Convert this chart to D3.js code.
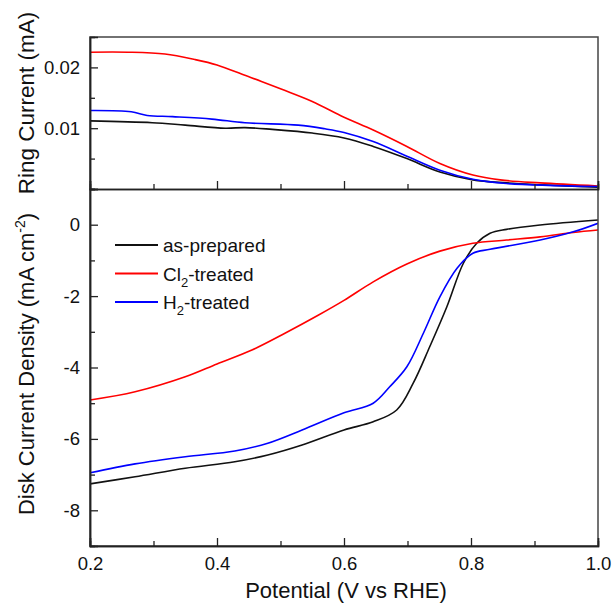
<!DOCTYPE html>
<html>
<head>
<meta charset="utf-8">
<script src="https://cdn.jsdelivr.net/npm/d3@7"></script>
<style>
  body { margin: 0; background: #fff; }
  text { font-family: "Liberation Sans", Arial, sans-serif; fill: #111; }
</style>
</head>
<body>
<div id="chart"></div>
<script>
// potential (V vs RHE) sample points, per series
var ringPotential = {
  asPrepared: [0.2, 0.298, 0.35, 0.413, 0.444, 0.487, 0.55, 0.6, 0.646, 0.699, 0.751, 0.803, 0.856, 0.909, 1.0],
  cl2: [0.2, 0.26, 0.318, 0.365, 0.4, 0.444, 0.47, 0.502, 0.55, 0.6, 0.646, 0.699, 0.751, 0.803, 0.846, 0.909, 1.0],
  h2: [0.2, 0.265, 0.29, 0.33, 0.392, 0.444, 0.528, 0.57, 0.6, 0.646, 0.699, 0.751, 0.803, 0.856, 1.0]
}
var ringCurrent = {
  asPrepared: [0.0112, 0.0109, 0.0105, 0.0100, 0.0101, 0.0098, 0.0092, 0.0084, 0.0070, 0.0050, 0.0028, 0.0015, 0.0010, 0.0007, 0.0003],
  cl2: [0.0225, 0.0225, 0.0222, 0.0213, 0.0204, 0.0187, 0.0177, 0.0164, 0.0144, 0.0118, 0.0097, 0.0070, 0.0042, 0.0023, 0.0015, 0.0010, 0.0005],
  h2: [0.0129, 0.0127, 0.0121, 0.0119, 0.0115, 0.0109, 0.0105, 0.0099, 0.0093, 0.0078, 0.0054, 0.0031, 0.0016, 0.0009, 0.0004]
}
var diskPotential = {
  asPrepared: [0.2, 0.271, 0.35, 0.428, 0.48, 0.534, 0.6, 0.646, 0.683, 0.709, 0.735, 0.762, 0.788, 0.809, 0.83, 0.856, 0.909, 1.0],
  cl2: [0.2, 0.271, 0.35, 0.4, 0.455, 0.507, 0.56, 0.6, 0.646, 0.699, 0.751, 0.803, 0.856, 0.909, 0.961, 1.0],
  h2: [0.2, 0.271, 0.35, 0.428, 0.48, 0.534, 0.6, 0.646, 0.672, 0.699, 0.725, 0.751, 0.778, 0.803, 0.83, 0.909, 0.961, 1.0]
}
var diskCurrent = {
  asPrepared: [-7.26, -7.06, -6.82, -6.64, -6.45, -6.17, -5.75, -5.52, -5.19, -4.44, -3.42, -2.30, -1.08, -0.52, -0.24, -0.13, -0.01, 0.13],
  cl2: [-4.91, -4.68, -4.26, -3.90, -3.51, -3.04, -2.53, -2.12, -1.60, -1.10, -0.74, -0.52, -0.43, -0.34, -0.22, -0.15],
  h2: [-6.95, -6.70, -6.50, -6.34, -6.12, -5.75, -5.27, -5.0, -4.54, -3.98, -3.04, -2.02, -1.22, -0.80, -0.69, -0.43, -0.20, 0.04]
}
var seriesKeys = ['asPrepared', 'cl2', 'h2']
var seriesColors = {asPrepared: '#111111', cl2: '#ff0000', h2: '#0000ff'}
var xTicks = [0.2, 0.4, 0.6, 0.8, 1.0]
var ringTicks = [0.01, 0.02]
var diskTicks = [-8, -6, -4, -2, 0]

var width = 613, height = 608
var left = 90, right = 598
var ringTop = 37, mid = 189, bottom = 546

var svg = d3.select('#chart').append('svg')
  .attr('width', width)
  .attr('height', height)

var x = d3.scaleLinear().domain([0.2, 1.0]).range([left, right])
var yRing = d3.scaleLinear().domain([0, 0.025]).range([mid, ringTop])
var yDisk = d3.scaleLinear().domain([-9, 1]).range([bottom, mid])

function pts(px, py){
  return px.map(function(v, i){ return [v, py[i]] })
}

// clip paths
svg.append('clipPath').attr('id', 'clipRing').append('rect')
  .attr('x', left).attr('y', ringTop).attr('width', right - left).attr('height', mid - ringTop)
svg.append('clipPath').attr('id', 'clipDisk').append('rect')
  .attr('x', left).attr('y', mid).attr('width', right - left).attr('height', bottom - mid)

var ringLine = d3.line().curve(d3.curveCatmullRom.alpha(0.5))
  .x(function(d){ return x(d[0]) }).y(function(d){ return yRing(d[1]) })
var diskLine = d3.line().curve(d3.curveCatmullRom.alpha(0.5))
  .x(function(d){ return x(d[0]) }).y(function(d){ return yDisk(d[1]) })

seriesKeys.forEach(function(k){
  svg.append('path')
    .datum(pts(ringPotential[k], ringCurrent[k]))
    .attr('clip-path', 'url(#clipRing)')
    .attr('fill', 'none').attr('stroke', seriesColors[k]).attr('stroke-width', 1.6)
    .attr('d', ringLine)
  svg.append('path')
    .datum(pts(diskPotential[k], diskCurrent[k]))
    .attr('clip-path', 'url(#clipDisk)')
    .attr('fill', 'none').attr('stroke', seriesColors[k]).attr('stroke-width', 1.6)
    .attr('d', diskLine)
})

// frame lines
svg.append('rect')
  .attr('x', left).attr('y', ringTop).attr('width', right - left).attr('height', bottom - ringTop)
  .attr('fill', 'none').attr('stroke', '#444').attr('stroke-width', 1.5)

function styleAxis(g){
  g.select('.domain').attr('stroke', '#222').attr('stroke-width', 1.5)
  g.selectAll('.tick line').attr('stroke', '#222').attr('stroke-width', 1.3)
  g.selectAll('.tick text').style('font-family', '"Liberation Sans", Arial, sans-serif')
    .style('font-size', '18.5px').attr('fill', '#111')
}

// minor ticks (inward)
var xMinor = [0.3, 0.5, 0.7, 0.9]
svg.append('g').attr('transform', 'translate(0,' + bottom + ')')
  .call(d3.axisBottom(x).tickValues(xMinor).tickSize(-5).tickFormat('')).call(styleAxis)
svg.append('g').attr('transform', 'translate(0,' + mid + ')')
  .call(d3.axisBottom(x).tickValues(xMinor).tickSize(-5).tickFormat('')).call(styleAxis)
svg.append('g').attr('transform', 'translate(' + left + ',0)')
  .call(d3.axisLeft(yRing).tickValues([0.005, 0.015]).tickSize(-5).tickFormat('')).call(styleAxis)
svg.append('g').attr('transform', 'translate(' + left + ',0)')
  .call(d3.axisLeft(yDisk).tickValues([-7, -5, -3, -1]).tickSize(-5).tickFormat('')).call(styleAxis)

// major ticks (inward)
svg.append('g').attr('transform', 'translate(0,' + bottom + ')')
  .call(d3.axisBottom(x).tickValues(xTicks).tickSize(-8).tickPadding(11).tickFormat(d3.format('.1f')))
  .call(styleAxis)
svg.append('g').attr('transform', 'translate(0,' + mid + ')')
  .call(d3.axisBottom(x).tickValues(xTicks).tickSize(-8).tickFormat(''))
  .call(styleAxis)
svg.append('g').attr('transform', 'translate(' + left + ',0)')
  .call(d3.axisLeft(yRing).tickValues(ringTicks).tickSize(-8).tickPadding(10).tickFormat(d3.format('.2f')))
  .call(styleAxis)
svg.append('g').attr('transform', 'translate(' + left + ',0)')
  .call(d3.axisLeft(yDisk).tickValues(diskTicks).tickSize(-8).tickPadding(10).tickFormat(d3.format('d')))
  .call(styleAxis)

svg.selectAll('.tick text').text(function(){ return this.textContent.replace('\u2212', '-') })

// axis titles
svg.append('text')
  .attr('transform', 'translate(34,103) rotate(-90)')
  .attr('text-anchor', 'middle').style('font-size', '22.5px')
  .text('Ring Current (mA)')
var disk = svg.append('text')
  .attr('transform', 'translate(34,364) rotate(-90)')
  .attr('text-anchor', 'middle').style('font-size', '22px')
disk.append('tspan').text('Disk Current Density (mA cm')
disk.append('tspan').attr('dy', -9).style('font-size', '14px').text('-2')
disk.append('tspan').attr('dy', 9).text(')')

svg.append('text')
  .attr('x', 346).attr('y', 598)
  .attr('text-anchor', 'middle').style('font-size', '22px')
  .text('Potential (V vs RHE)')

// legend
var legendItems = [
  {key: 'asPrepared', main: 'as-prepared'},
  {key: 'cl2', main: 'Cl', sub: '2', rest: '-treated'},
  {key: 'h2', main: 'H', sub: '2', rest: '-treated'}
]
legendItems.forEach(function(d, i){
  var ly = 245 + i * 28.5
  svg.append('line')
    .attr('x1', 115).attr('x2', 158).attr('y1', ly).attr('y2', ly)
    .attr('stroke', seriesColors[d.key]).attr('stroke-width', 1.8)
  var t = svg.append('text').attr('x', 163).attr('y', ly + 7).style('font-size', '19px')
  t.append('tspan').text(d.main)
  if (d.sub) {
    t.append('tspan').attr('dy', 6).style('font-size', '13px').text(d.sub)
    t.append('tspan').attr('dy', -6).text(d.rest)
  }
})
</script>
</body>
</html>
